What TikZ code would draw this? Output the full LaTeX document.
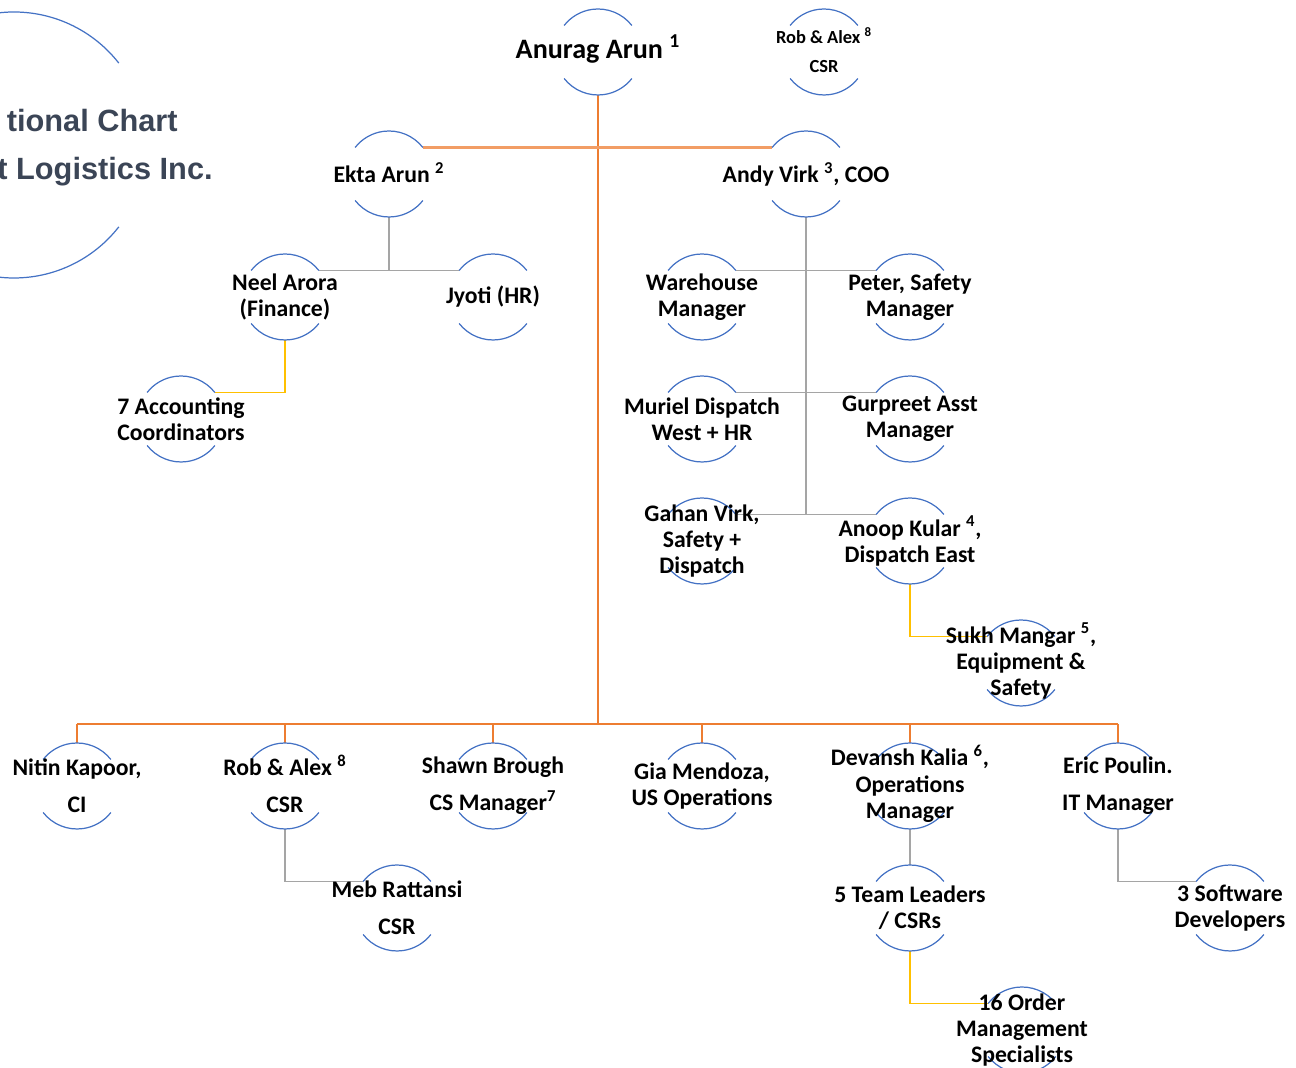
\documentclass[tikz,border=0pt]{standalone}
\usepackage{fontspec}
\setmainfont{Carlito}
\newfontfamily\titlefont{Liberation Sans}
\usetikzlibrary{calc}
\definecolor{ringblue}{HTML}{4472C4}
\definecolor{orgorange}{HTML}{ED7D31}
\definecolor{staffgray}{HTML}{A5A5A5}
\definecolor{teamgold}{HTML}{FFC000}
\definecolor{titleslate}{HTML}{3B4556}
\pgfdeclarelayer{background}
\pgfsetlayers{background,main}
\tikzset{
  seat/.style={circle, minimum size=1.72cm, inner sep=0pt, outer sep=0pt},
  who/.style={font=\bfseries\fontsize{13.5}{15}\selectfont, align=center, inner sep=0pt},
  ring/.style={ringblue, line width=0.7pt},
  boss/.style={orgorange, line width=1pt},
  staff/.style={staffgray, line width=1pt},
  team/.style={teamgold, line width=1pt},
}
\def\person[#1](#2)(#3)#4{%
  \node[seat] (#2) at (#3) {};
  \draw[ring] (#2.38) arc (38:142:43);
  \draw[ring] (#2.218) arc (218:322:43);
  \node[who,#1] (#2-txt) at (#2) {#4};
}
\def\sup#1{\smash{\textsuperscript{#1}}}

\begin{document}
\begin{tikzpicture}[x=0.02cm, y=0.02cm]
		\useasboundingbox (0,0) rectangle (1296,1068);
		
		%%%%% TITLE %%%%%
		\draw[ring] ($(14,923)+(38:133)$) arc (38:96:133);
		\draw[ring] ($(14,923)+(264:133)$) arc (264:322:133);
		\node[font=\titlefont\bfseries\fontsize{17.5}{20}\selectfont, text=titleslate, anchor=base east, inner sep=0pt] (title1) at (178,936) {tional Chart};
		\node[font=\titlefont\bfseries\fontsize{17.5}{20}\selectfont, text=titleslate, anchor=base east, inner sep=0pt] (title2) at (213,888) {t Logistics Inc.};
		
		%%%%% PEOPLE %%%%%
		\person[font=\bfseries\fontsize{16}{18}\selectfont](anurag)(598,1016){Anurag Arun \sup{1}}
		\person[font=\bfseries\fontsize{10.5}{12.5}\selectfont](robtop)(824,1016){Rob \& Alex \sup{8}\\[4pt]CSR}
		
		\person[](ekta)(389,894){Ekta Arun \sup{2}}
		\person[yshift=-1](andy)(806,894){Andy Virk \sup{3}, COO}
		
		\person[](neel)(285,771){Neel Arora\\(Finance)}
		\person[](jyoti)(493,771){Jyoti (HR)}
		\person[](acct)(181,649){7 Accounting\\Coordinators}
		
		\person[](warehouse)(702,771){Warehouse\\Manager}
		\person[](peter)(910,771){Peter, Safety\\Manager}
		\person[](muriel)(702,649){Muriel Dispatch\\West + HR}
		\person[](gurpreet)(910,649){Gurpreet Asst\\Manager}
		\person[](gahan)(702,527){Gahan Virk,\\Safety +\\Dispatch}
		\person[yshift=-1](anoop)(910,527){Anoop Kular \sup{4},\\Dispatch East}
		\person[](sukh)(1021,405){Sukh Mangar \sup{5},\\Equipment \&\\Safety}
		
		\person[](nitin)(77,282){Nitin Kapoor,\\[6pt]CI}
		\person[](rob)(285,282){Rob \& Alex \sup{8}\\[6pt]CSR}
		\person[](shawn)(493,282){Shawn Brough\\[6pt]CS Manager\sup{7}}
		\person[](gia)(702,282){Gia Mendoza,\\US Operations}
		\person[](devansh)(910,282){Devansh Kalia \sup{6},\\Operations\\Manager}
		\person[](eric)(1118,282){Eric Poulin.\\[6pt]IT Manager}
		
		\person[](meb)(397,160){Meb Rattansi\\[6pt]CSR}
		\person[](team)(910,160){5 Team Leaders\\/ CSRs}
		\person[](soft)(1230,160){3 Software\\Developers}
		\person[](order)(1022,38){16 Order\\Management\\Specialists}
		
		%%%%% LINES %%%%%
		\begin{pgfonlayer}{background}
		\coordinate (bus) at (598,344);
		\draw[boss] (anurag.south) -- (bus);
		\draw[boss, line width=1.2pt, color=orgorange!75] (ekta.38) -- (andy.142);
		\draw[boss] (nitin.north |- bus) -- (eric.north |- bus);
		\foreach \n in {nitin,rob,shawn,gia,devansh,eric}
			\draw[boss] (\n.north) -- (\n.north |- bus);
		
		\draw[staff] (ekta.south) -- (ekta.south |- neel.38);
		\draw[staff] (neel.38) -- (jyoti.142);
		\draw[staff] (andy.south) -- (andy.south |- anoop.142);
		\draw[staff] (warehouse.38) -- (peter.142);
		\draw[staff] (muriel.38) -- (gurpreet.142);
		\draw[staff] (gahan.38) -- (anoop.142);
		\draw[staff] (rob.south) |- (meb.142);
		\draw[staff] (devansh.south) -- (team.north);
		\draw[staff] (eric.south) |- (soft.142);
		
		\draw[team] (neel.south) |- (acct.38);
		\draw[team] (anoop.south) |- (sukh.142);
		\draw[team] (team.south) |- (order.142);
		\end{pgfonlayer}
		
	\end{tikzpicture}
\end{document}
